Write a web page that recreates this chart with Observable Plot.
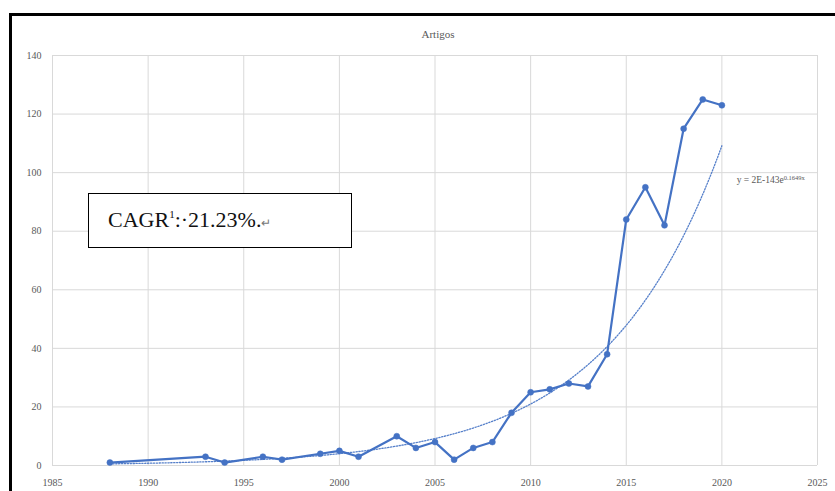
<!DOCTYPE html>
<html>
<head>
<meta charset="utf-8">
<script src="https://cdn.jsdelivr.net/npm/d3@7"></script>
<script src="https://cdn.jsdelivr.net/npm/@observablehq/plot@0.6"></script>
<style>
  html, body { margin: 0; padding: 0; background: #fff; overflow: hidden; }
  #wrap { position: relative; width: 835px; height: 491px; overflow: hidden; background: #fff; }
  #wrap svg text { font-family: "Liberation Serif", serif; }
  #frame { position: absolute; left: 9px; top: 13px; width: 900px; height: 600px;
           border-top: 3px solid #000; border-left: 3px solid #000; box-sizing: border-box; pointer-events: none; }
  #cagr { position: absolute; left: 88px; top: 193px; width: 264px; height: 55px; box-sizing: border-box;
          border: 1.5px solid #000; background: #fff; font-family: "Liberation Serif", serif; font-size: 22px;
          color: #111; padding-left: 19px; line-height: 52px; white-space: nowrap; }
  #cagr sup { font-size: 11px; vertical-align: 9px; line-height: 0; }
  #cagr .pm { font-size: 12px; color: #777; }
  #eq { position: absolute; font-family: "Liberation Serif", serif; font-size: 9.5px; color: #595959; white-space: nowrap; }
  #eq sup { font-size: 6.5px; vertical-align: 3px; line-height: 0; }
</style>
</head>
<body>
<div id="wrap"></div>
<script>
// Data
const years  = [1988, 1993, 1994, 1996, 1997, 1999, 2000, 2001, 2003, 2004, 2005, 2006, 2007,
                2008, 2009, 2010, 2011, 2012, 2013, 2014, 2015, 2016, 2017, 2018, 2019, 2020];
const counts = [1, 3, 1, 3, 2, 4, 5, 3, 10, 6, 8, 2, 6,
                8, 18, 25, 26, 28, 27, 38, 84, 95, 82, 115, 125, 123];
const xTicks = [1985, 1990, 1995, 2000, 2005, 2010, 2015, 2020, 2025];
const yTicks = [0, 20, 40, 60, 80, 100, 120, 140];
const title = "Artigos";
const trendLabel = {base: "y = 2E-143e", exp: "0.1649x"};
const cagrText = {pre: "CAGR", sup: "1", post: ":·21.23%.", mark: "↵"};

const data = years.map((y, i) => ({year: y, value: counts[i]}));

// Exponential trendline (least squares fit on ln(value)), as in the spreadsheet
const mx = d3.mean(data, d => d.year);
const my = d3.mean(data, d => Math.log(d.value));
const b = d3.sum(data, d => (d.year - mx) * (Math.log(d.value) - my)) / d3.sum(data, d => (d.year - mx) ** 2);
const a = my - b * mx;
const trend = d3.range(years[0], years[years.length - 1] + 0.001, 0.2).map(x => ({year: x, value: Math.exp(a + b * x)}));

const blue = "#4472C4";

const chart = Plot.plot({
  width: 835,
  height: 491,
  marginLeft: 52,
  marginRight: 18,
  marginTop: 55,
  marginBottom: 26,
  style: {fontFamily: "Liberation Serif, serif", fontSize: "10px", color: "#595959", background: "#fff"},
  x: {domain: [1985, 2025]},
  y: {domain: [0, 140]},
  marks: [
    Plot.gridX(xTicks, {stroke: "#d9d9d9", strokeOpacity: 1, strokeWidth: 1}),
    Plot.gridY(yTicks, {stroke: "#d9d9d9", strokeOpacity: 1, strokeWidth: 1}),
    Plot.axisY({ticks: yTicks, tickSize: 0, tickPadding: 11, tickFormat: d => String(d), label: null}),
    Plot.axisX({ticks: xTicks, tickSize: 0, tickPadding: 13, tickFormat: d => String(d), label: null}),
    Plot.line(trend, {x: "year", y: "value", stroke: blue, strokeWidth: 1.3, strokeDasharray: "1.3,1.6", strokeOpacity: 0.9}),
    Plot.line(data, {x: "year", y: "value", stroke: blue, strokeWidth: 2.2}),
    Plot.dot(data, {x: "year", y: "value", r: 3, fill: blue, stroke: blue, strokeWidth: 0.5}),
    Plot.text([title], {frameAnchor: "top", dy: -21, dx: 3, text: d => d, fontSize: 11, fill: "#595959", lineAnchor: "middle"})
  ]
});

const wrap = document.getElementById("wrap");
wrap.appendChild(chart);

// Trendline equation label, positioned through the chart's scales
const sx = chart.scale("x"), sy = chart.scale("y");
const eq = document.createElement("div");
eq.id = "eq";
eq.innerHTML = trendLabel.base + "<sup>" + trendLabel.exp + "</sup>";
eq.style.left = sx.apply(2020.8) + "px";
eq.style.top = (sy.apply(96.6) - 7) + "px";
wrap.appendChild(eq);

// CAGR text box
const box = document.createElement("div");
box.id = "cagr";
box.innerHTML = cagrText.pre + "<sup>" + cagrText.sup + "</sup>" + cagrText.post + "<span class='pm'>" + cagrText.mark + "</span>";
wrap.appendChild(box);

// Outer black frame
const fr = document.createElement("div");
fr.id = "frame";
wrap.appendChild(fr);
</script>
</body>
</html>
